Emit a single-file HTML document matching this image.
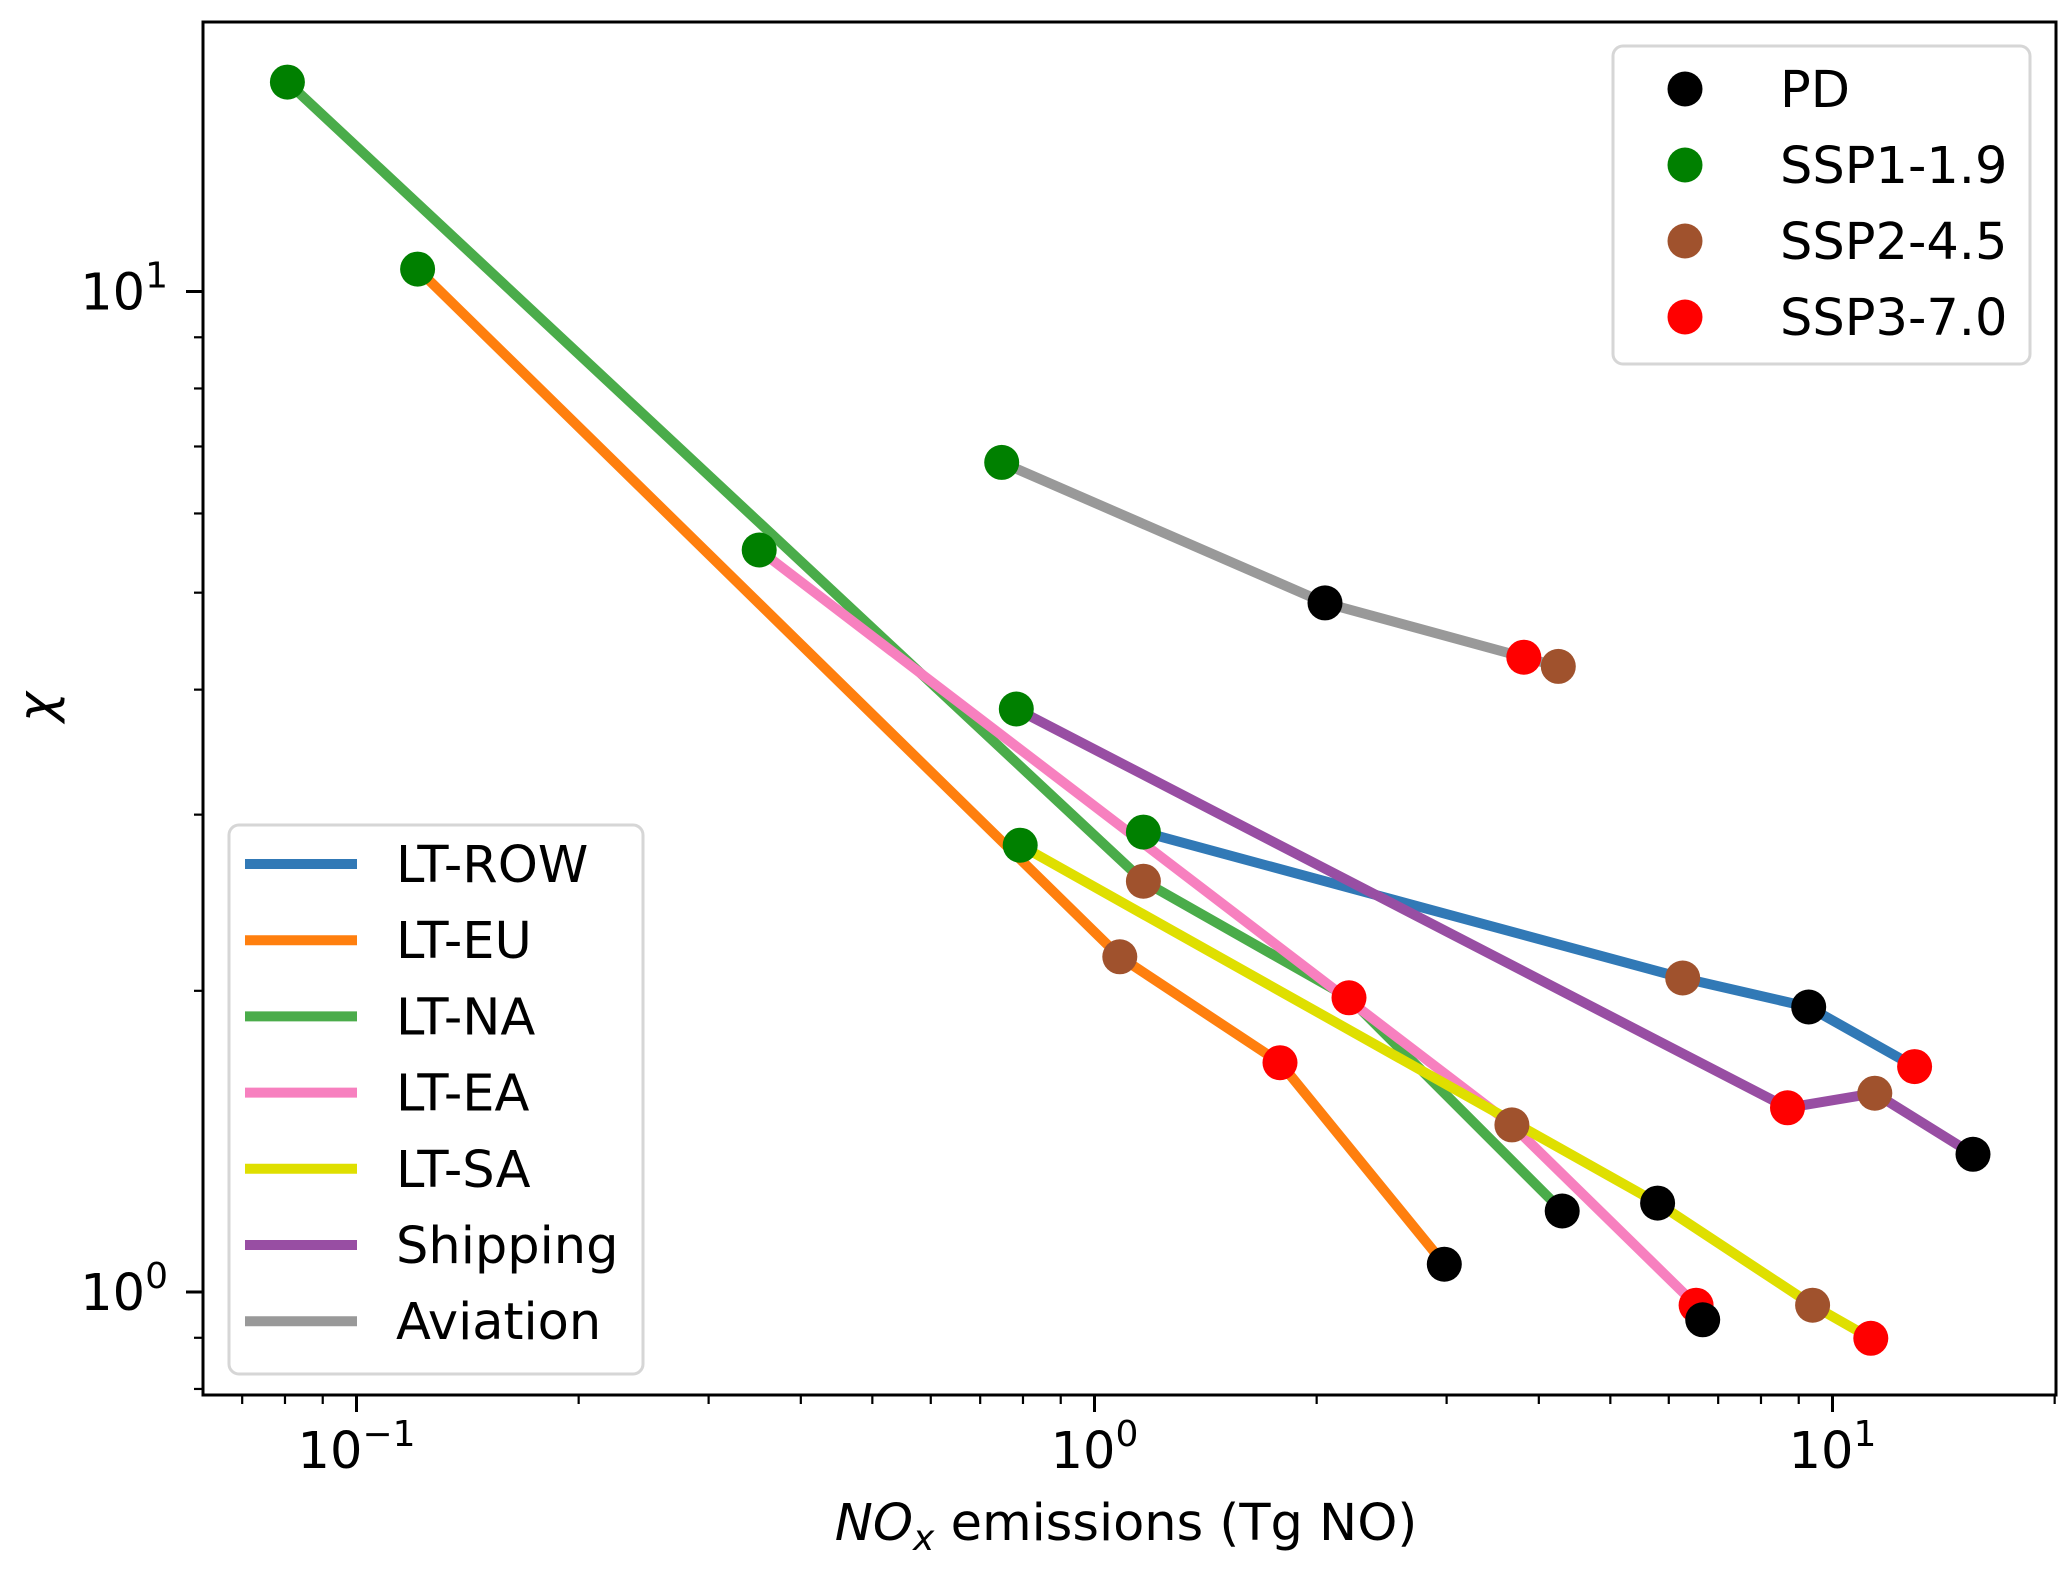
<!DOCTYPE html>
<html><head><meta charset="utf-8"><style>
html,body{margin:0;padding:0;background:#fff;}
svg text{font-family:"DejaVu Sans","Liberation Sans",sans-serif;fill:#000;}
</style></head><body>
<svg id="chart" xmlns="http://www.w3.org/2000/svg" width="2067" height="1569" viewBox="0 0 2067 1569">
<rect x="0" y="0" width="2067" height="1569" fill="#fff"/>
<g id="plot"></g>
<g id="axes"></g>
</svg>
<script>
const seriesNames = ["LT-ROW","LT-EU","LT-NA","LT-EA","LT-SA","Shipping","Aviation"];
const seriesColors = ["#3179b6","#ff7f0e","#4aac4a","#f780bf","#dfdf00","#984ea3","#999999"];
const scenNames = ["PD","SSP1-1.9","SSP2-4.5","SSP3-7.0"];
const scenColors = ["#000000","#008000","#a0522d","#ff0000"];
// per series: x values, y values, scenario index
const rowX = [1.165, 6.267, 9.284, 12.92];
const rowY = [2.882, 2.060, 1.927, 1.680];
const rowS = [1, 2, 0, 3];
const euX = [0.1210, 1.082, 1.784, 2.978];
const euY = [10.53, 2.163, 1.695, 1.066];
const euS = [1, 2, 3, 0];
const naX = [0.0806, 1.165, 2.212, 4.303];
const naY = [16.19, 2.574, 1.968, 1.205];
const naS = [1, 2, 3, 0];
const eaX = [0.3513, 3.678, 6.533, 6.670];
const eaY = [5.516, 1.469, 0.970, 0.938];
const eaS = [1, 2, 3, 0];
const saX = [0.7930, 5.794, 9.399, 11.27];
const saY = [2.796, 1.227, 0.970, 0.899];
const saS = [1, 0, 2, 3];
const shipX = [0.7835, 8.690, 11.41, 15.50];
const shipY = [3.826, 1.528, 1.580, 1.373];
const shipS = [1, 3, 2, 0];
const aviX = [0.7485, 2.053, 3.817, 4.250];
const aviY = [6.748, 4.884, 4.310, 4.220];
const aviS = [1, 0, 3, 2];
const xTickLabels = ["-1","0","1"];
const yTickLabels = ["0","1"];

const NS="http://www.w3.org/2000/svg";
const L=203,R=2056,T=22,B=1395;
function sx(v){return 1094.5+738*Math.log10(v);}
function sy(v){return 1292-1000.5*Math.log10(v);}
function mk(tag,attrs,parent){const e=document.createElementNS(NS,tag);for(const k in attrs)e.setAttribute(k,attrs[k]);parent.appendChild(e);return e;}
const plot=document.getElementById('plot'), axes=document.getElementById('axes');
const allX=[rowX,euX,naX,eaX,saX,shipX,aviX], allY=[rowY,euY,naY,eaY,saY,shipY,aviY], allS=[rowS,euS,naS,eaS,saS,shipS,aviS];
// lines
allX.forEach((xs,i)=>{
  const idx=xs.map((_,k)=>k).sort((a,b)=>xs[a]-xs[b]);
  const pts=idx.map(k=>sx(xs[k]).toFixed(1)+','+sy(allY[i][k]).toFixed(1)).join(' ');
  const pl=mk('polyline',{points:pts,fill:'none',stroke:seriesColors[i],'stroke-width':10,'stroke-linejoin':'round'},plot);
  
  
});
// markers
allX.forEach((xs,i)=>{
  xs.forEach((x,k)=>{
    const c=mk('circle',{cx:sx(x).toFixed(1),cy:sy(allY[i][k]).toFixed(1),r:17.5,fill:scenColors[allS[i][k]]},plot);
    
    
  });
});
// frame
const fr=mk('rect',{x:L,y:T,width:R-L,height:B-T,fill:'none',stroke:'#000','stroke-width':3},axes);


// x ticks
for(let e=-2;e<=1;e++){for(let m=1;m<10;m++){const v=m*Math.pow(10,e);const px=sx(v);if(px<L||px>R)continue;
  const len=m===1?17:9;
  const t=mk('line',{x1:px,y1:B,x2:px,y2:B+len,stroke:'#000','stroke-width':m===1?3:2.2},axes);
  
  
}}
xTickLabels.forEach(lab=>{const px=sx(Math.pow(10,+lab));
  const t=mk('text',{x:px,y:1468,'font-size':51,'text-anchor':'middle'},axes);
  
  
  t.innerHTML='10<tspan dy="-22" font-size="36">'+(lab.startsWith('-')?'\u2212'+lab.slice(1):lab)+'</tspan>';
});
for(let e=-1;e<=1;e++){for(let m=1;m<10;m++){const v=m*Math.pow(10,e);const py=sy(v);if(py<T||py>B)continue;
  const len=m===1?17:9;
  const t=mk('line',{x1:L-len,y1:py,x2:L,y2:py,stroke:'#000','stroke-width':m===1?3:2.2},axes);
  
  
}}
yTickLabels.forEach(lab=>{const py=sy(Math.pow(10,+lab));
  const t=mk('text',{x:168,y:py+18,'font-size':51,'text-anchor':'end'},axes);
  
  
  t.innerHTML='10<tspan dy="-22" font-size="36">'+lab+'</tspan>';
});
// axis titles
const xt=mk('text',{x:1126,y:1540,'font-size':51,'text-anchor':'middle'},axes);


xt.innerHTML='<tspan font-style="italic">NO</tspan><tspan font-style="italic" font-size="36" dy="10">x</tspan><tspan dy="-10"> emissions (Tg NO)</tspan>';
const yt=mk('text',{x:0,y:0,'font-size':51,'text-anchor':'middle','font-style':'italic',transform:'translate(54,707) rotate(-90)'},axes);


yt.textContent='\u03c7';
// legend lines
const lg=mk('g',{},axes);


mk('rect',{x:229,y:825,width:414,height:549,rx:10,fill:'#fff','fill-opacity':0.85,stroke:'#d6d6d6','stroke-width':3},lg);
seriesNames.forEach((n,i)=>{const y=864+i*76.2;
  const g=mk('g',{},lg);
  
  
  mk('line',{x1:245,y1:y,x2:357,y2:y,stroke:seriesColors[i],'stroke-width':10},g);
  const t=mk('text',{x:396,y:y+18,'font-size':51},g);t.textContent=n;
});
const lg2=mk('g',{},axes);


mk('rect',{x:1613,y:46,width:417,height:318,rx:10,fill:'#fff','fill-opacity':0.85,stroke:'#d6d6d6','stroke-width':3},lg2);
scenNames.forEach((n,i)=>{const y=89+i*76;
  const g=mk('g',{},lg2);
  
  
  mk('circle',{cx:1685,cy:y,r:17.5,fill:scenColors[i]},g);
  const t=mk('text',{x:1780,y:y+18,'font-size':51},g);t.textContent=n;
});
</script>
</body></html>
